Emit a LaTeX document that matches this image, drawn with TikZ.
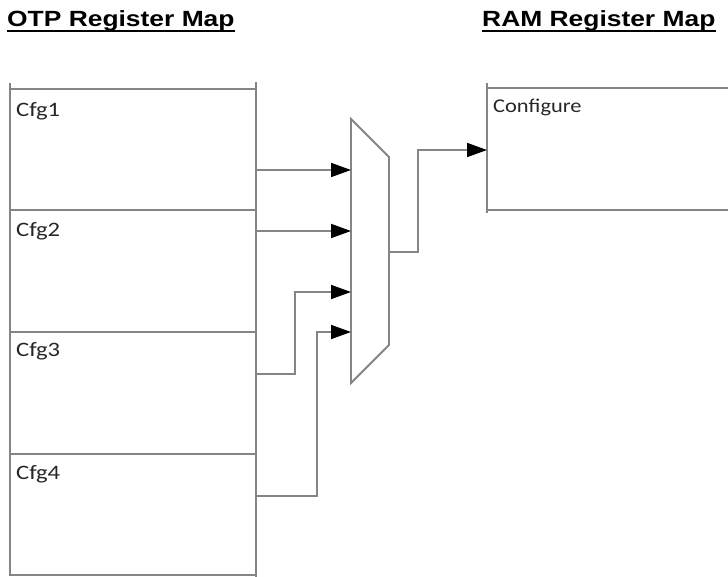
\documentclass[tikz,border=0pt]{standalone}
\usepackage{fontspec}
\setmainfont{Carlito}
\newfontfamily\titlefont{Liberation Sans}
\usetikzlibrary{arrows.meta}
\definecolor{linegray}{HTML}{858585}
\definecolor{labelgray}{HTML}{262626}
\tikzset{
  regline/.style={draw=linegray, line width=1.8pt},
  regbox/.style={regline, rectangle, minimum width=246pt, inner sep=0pt, outer sep=0pt},
  reglabel/.style={anchor=base west, inner sep=0pt, text=labelgray, font=\fontsize{20.5}{23}\selectfont},
  titletext/.style={anchor=base west, inner sep=0pt, font=\titlefont\bfseries\fontsize{22}{26}\selectfont},
  wire/.style={draw=linegray, line width=1.8pt},
  arrwire/.style={wire, -{Triangle[length=20pt,width=14pt,fill=black,color=black]}},
}
\begin{document}
\begin{tikzpicture}[x=1pt, y=-1pt]
\useasboundingbox (0,0) rectangle (728,577);
% titles
\node[titletext] (t1) at (7,27) {\scalebox{1.2}[1]{OTP Register Map}};
\node[titletext] (t2) at (482,27) {\scalebox{1.2}[1]{RAM Register Map}};
\draw[line width=1.6pt] ([yshift=-4pt]t1.base west) -- ([yshift=-4pt]t1.base east);
\draw[line width=1.6pt] ([yshift=-4pt]t2.base west) -- ([yshift=-4pt]t2.base east);
% OTP register boxes
\node[regbox, minimum height=121pt] (cfg1) at (133,149.5) {};
\node[regbox, minimum height=122pt] (cfg2) at (133,271) {};
\node[regbox, minimum height=122pt] (cfg3) at (133,393) {};
\node[regbox, minimum height=121pt] (cfg4) at (133,514.5) {};
\draw[regline] (cfg1.north west) -- ++(0,-6);
\draw[regline] (cfg1.north east) -- ++(0,-7);
\draw[regline] (cfg4.south east) -- ++(0,2);
\node[reglabel] (l1) at (16,117) {\scalebox{1.2}[1]{Cfg1}};
\node[reglabel] (l2) at (16,237) {\scalebox{1.2}[1]{Cfg2}};
\node[reglabel] (l3) at (16,356) {\scalebox{1.2}[1]{Cfg3}};
\node[reglabel] (l4) at (16,479) {\scalebox{1.2}[1]{Cfg4}};
% mux
\coordinate (mtl) at (351,119);
\coordinate (mtr) at (389,157);
\coordinate (mbr) at (389,345);
\coordinate (mbl) at (351,383);
\draw[wire, fill=white, line join=miter] (mtl) -- (mtr) -- (mbr) -- (mbl) -- cycle;
\coordinate (in1) at (351,170);
\coordinate (in2) at (351,231);
\coordinate (in3) at (351,292);
\coordinate (in4) at (351,332);
\coordinate (mout) at (389,252);
% RAM register box (extends past the right edge)
\coordinate (rtl) at (487,88);
\coordinate (rbl) at (487,210);
\draw[regline] (487,83) -- (487,213);
\draw[regline] (rtl) -- (728,88);
\draw[regline] (rbl) -- (728,210);
\coordinate (rin) at (487,150);
\node[reglabel, font=\fontsize{19.5}{22}\selectfont] (lconf) at (493,113) {\scalebox{1.15}[1]{Configure}};
% connectors
\draw[arrwire] (cfg1.east |- in1) -- (in1);
\draw[arrwire] (cfg2.east |- in2) -- (in2);
\draw[arrwire] ([yshift=19pt]cfg3.east) -- (295,374) -- (295,292) -- (in3);
\draw[arrwire] ([yshift=18.5pt]cfg4.east) -- (317,496) -- (317,332) -- (in4);
\draw[arrwire] (mout) -- (418,252) -- (418,150) -- (rin);
\end{tikzpicture}
\end{document}
